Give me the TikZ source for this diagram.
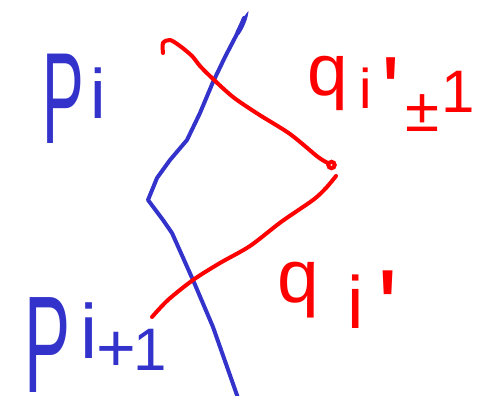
\documentclass[tikz,border=0pt]{standalone}
\usepackage{fontspec}
\setmainfont{Liberation Sans}
\usepackage{graphicx}
\definecolor{penblue}{RGB}{51,51,204}
\definecolor{penred}{RGB}{255,0,0}
% glyph placed at horizontal offset #1 and raised by #2, font size #3
\newcommand{\gl}[4]{\rlap{\hskip#1pt\raisebox{#2pt}{\fontsize{#3}{#3}\selectfont #4}}}
\tikzset{
  pen/.style={line width=4pt, line cap=round, line join=round},
  lbl/.style={anchor=base west, inner sep=0pt, outer sep=0pt}
}
\begin{document}
\begin{tikzpicture}[x=1pt,y=-1pt]
\useasboundingbox (0,0) rectangle (477,396);
% blue curve
\draw[pen, penblue] (244,18) -- (238,32) -- (225,57) -- (213,82) -- (200,113) -- (187,140)
  -- (170,160) -- (157,178) -- (148,200) -- (163,220) -- (172,233) -- (193,280) -- (213,327) -- (238,398);
\fill[penblue] (248.5,11) .. controls (248,18) and (244,28) .. (239,35)
  -- (235.5,32) .. controls (239,24) and (244,16) .. cycle;
% red curve
\draw[pen, penred] plot[smooth, tension=0.5] coordinates {(163,53) (163,43) (170,40) (180,46) (192,56)
  (200,66) (212,78) (233,97) (258,114) (290,134) (318,157) (328,163)};
\draw[penred, line width=4pt] (331.5,165) circle (3.2);
\draw[pen, penred] plot[smooth, tension=0.5] coordinates {(336,176) (326,188) (313,200)
  (281,222) (250,246) (220,263) (193,280) (168,300) (152,317)};
% labels
\node[lbl, text=penblue] (pi) at (0,143)
  {\gl{42}{0}{130}{\scalebox{0.48}[1]{P}}\gl{90}{25}{70}{i}};
\node[lbl, text=penblue] (pi1) at (0,392)
  {\gl{24}{0}{138}{\scalebox{0.5}[1]{P}}\gl{80}{34}{77}{i}\gl{96}{21}{68}{+}\gl{133}{22}{60}{1}};
\node[lbl, text=penred] (qi1) at (0,108)
  {\gl{307}{13}{73}{q}\gl{359}{0}{56}{i}\gl{381}{-19}{100}{\textquotesingle}\gl{405}{-24}{62}{±}\gl{441}{-5}{60}{1}};
\node[lbl, text=penred] (qi) at (0,325)
  {\gl{277}{23}{75}{q}\gl{347}{-3}{74}{i}\gl{377}{-21}{110}{\textquotesingle}};
\end{tikzpicture}
\end{document}
